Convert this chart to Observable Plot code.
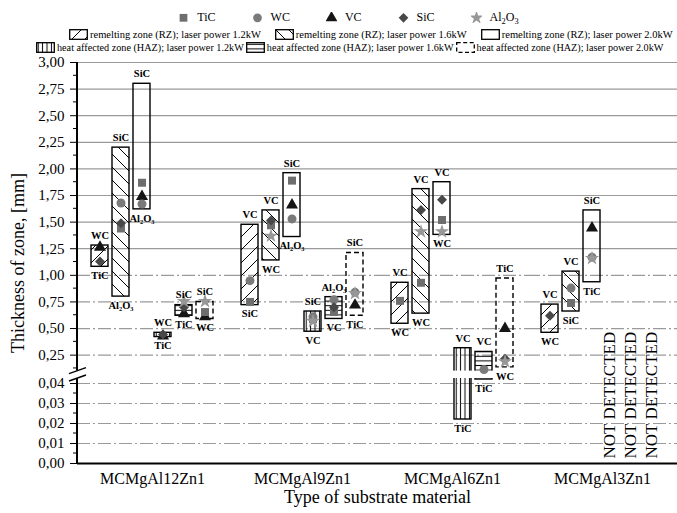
<!DOCTYPE html>
<html>
<head>
<meta charset="utf-8">
<script src="https://cdn.jsdelivr.net/npm/d3@7"></script>
<script src="https://cdn.jsdelivr.net/npm/@observablehq/plot@0.6"></script>
<style>
  html, body { margin: 0; padding: 0; background: #fff; }
  body { width: 677px; height: 513px; overflow: hidden; font-family: "Liberation Serif", "DejaVu Serif", serif; color: #000; }
  #chart svg, #chart svg text { font-family: "Liberation Serif", "DejaVu Serif", serif !important; }
  #legend { position: relative; width: 677px; height: 55px; }
  .row { position: absolute; display: flex; align-items: center; white-space: nowrap; }
  .row1 { top: 10px; left: 0; width: 677px; justify-content: center; font-size: 12px; padding-left: 20px; box-sizing: border-box; }
  .row2 { top: 29px; left: 69px; font-size: 10.5px; }
  .row3 { top: 42px; left: 36px; font-size: 10.2px; }
  .item { display: flex; align-items: center; }
  .row1 .item { margin: 0 18px; }
  .row1 .item svg { margin-right: 8px; }
  .row2 .item { margin-right: 14px; }
  .row3 .item { margin-right: 2px; }
  .row2 .item svg, .row3 .item svg { margin-right: 2px; }
  sub { font-size: 0.7em; vertical-align: -0.3em; line-height: 0; }
</style>
</head>
<body>
<svg width="0" height="0" style="position:absolute">
  <defs>
    <pattern id="pat0" width="13" height="13" patternUnits="userSpaceOnUse">
      <path d="M-3,3 L3,-3 M0,13 L13,0 M10,16 L16,10" stroke="#000" stroke-width="1"/>
    </pattern>
    <pattern id="pat1" width="13" height="13" patternUnits="userSpaceOnUse">
      <path d="M-3,10 L3,16 M0,0 L13,13 M10,-3 L16,3" stroke="#000" stroke-width="1"/>
    </pattern>
    <pattern id="pat3" width="4.4" height="10" patternUnits="userSpaceOnUse">
      <path d="M2.2,0 V10" stroke="#000" stroke-width="1"/>
    </pattern>
    <pattern id="pat4" width="10" height="4.6" patternUnits="userSpaceOnUse">
      <path d="M0,2.3 H10" stroke="#000" stroke-width="1"/>
    </pattern>
  </defs>
</svg>
<div id="legend"></div>
<div id="chart"></div>
<script>
// ---------------- data ----------------
const groups = ["MCMgAl12Zn1", "MCMgAl9Zn1", "MCMgAl6Zn1", "MCMgAl3Zn1"];
const zones = ["RZ 1.2kW", "RZ 1.6kW", "RZ 2.0kW", "HAZ 1.2kW", "HAZ 1.6kW", "HAZ 2.0kW"];
const zoneLegend = [
  "remelting zone (RZ); laser power 1.2kW",
  "remelting zone (RZ); laser power 1.6kW",
  "remelting zone (RZ); laser power 2.0kW",
  "heat affected zone (HAZ); laser power 1.2kW",
  "heat affected zone (HAZ); laser power 1.6kW",
  "heat affected zone (HAZ); laser power 2.0kW"
];
const materials = ["TiC", "WC", "VC", "SiC", "Al₂O₃"];
const materialsHtml = ["TiC", "WC", "VC", "SiC", "Al<sub>2</sub>O<sub>3</sub>"];

const yTicks = [0, 0.01, 0.02, 0.03, 0.04, 0.25, 0.5, 0.75, 1, 1.25, 1.5, 1.75, 2, 2.25, 2.5, 2.75, 3];
const yMinorTicks = [0.005, 0.015, 0.025, 0.035, 0.125, 0.375, 0.625, 0.875, 1.125, 1.375, 1.625, 1.875, 2.125, 2.375, 2.625, 2.875];
const axisBreak = [0.0425, 0.1];

// thickness range boxes (min..max over the five reinforcing particles)
const boxGroup = [0, 0, 0, 0, 0, 0, 1, 1, 1, 1, 1, 1, 2, 2, 2, 2, 2, 2, 3, 3, 3];
const boxZone  = [0, 1, 2, 3, 4, 5, 0, 1, 2, 3, 4, 5, 0, 1, 2, 3, 4, 5, 0, 1, 2];
const boxMin = [1.08, 0.80, 1.62, 0.42, 0.62, 0.59, 0.72, 1.14, 1.36, 0.47, 0.59, 0.62, 0.545, 0.64, 1.38, 0.022, 0.042, 0.135, 0.46, 0.66, 0.935];
const boxMax = [1.28, 2.20, 2.80, 0.46, 0.72, 0.75, 1.475, 1.61, 1.96, 0.66, 0.795, 1.21, 0.93, 1.81, 1.875, 0.315, 0.28, 0.97, 0.725, 1.035, 1.61];
const boxMaxLabel = ["WC", "SiC", "SiC", "WC", "SiC", "SiC", "VC", "VC", "SiC", "SiC", "Al₂O₃", "SiC", "VC", "VC", "VC", "VC", "VC", "TiC", "VC", "VC", "SiC"];
const boxMinLabel = ["TiC", "Al₂O₃", "Al₂O₃", "TiC", "TiC", "WC", "SiC", "WC", "Al₂O₃", "VC", "VC", "TiC", "WC", "WC", "WC", "TiC", "TiC", "WC", "WC", "SiC", "TiC"];

// intermediate values (markers)
const markGroup    = [0, 0,  0, 0, 0,  0, 0, 0,  0, 0,  0, 0, 0,  0, 0, 0,  1, 1,  1, 1, 1,  1, 1, 1,  1, 1, 1,  1, 1, 1,  1, 1, 1,  2,  2, 2, 2,  2, 2, 2,  2,  2, 2, 2,  3,  3, 3,  3, 3, 3];
const markZone     = [0, 0,  1, 1, 1,  2, 2, 2,  3, 3,  4, 4, 4,  5, 5, 5,  0, 0,  1, 1, 1,  2, 2, 2,  3, 3, 3,  4, 4, 4,  5, 5, 5,  0,  1, 1, 1,  2, 2, 2,  4,  5, 5, 5,  0,  1, 1,  2, 2, 2];
const markMaterial = [2, 3,  1, 3, 0,  0, 2, 1,  3, 2,  4, 3, 2,  4, 0, 2,  1, 0,  3, 0, 4,  0, 2, 1,  1, 0, 4,  1, 3, 0,  1, 4, 2,  0,  3, 4, 0,  3, 0, 4,  1,  2, 3, 4,  3,  1, 0,  2, 1, 4];
const markValue    = [1.265, 1.13,  1.68, 1.49, 1.44,  1.87, 1.74, 1.67,  0.445, 0.43,  0.755, 0.70, 0.64,  0.755, 0.655, 0.61,
                      0.95, 0.75,  1.515, 1.47, 1.37,  1.89, 1.66, 1.53,  0.61, 0.59, 0.57,  0.77, 0.70, 0.655,  0.84, 0.83, 0.72,
                      0.76,  1.615, 1.41, 0.93,  1.71, 1.52, 1.41,  0.115,  0.50, 0.215, 0.19,
                      0.62,  0.88, 0.74,  1.445, 1.17, 1.16];

const notDetectedGroup = 3;
const notDetectedZones = [3, 4, 5];

// ---------------- styles ----------------
const matSymbol = ["square", "circle", "triangle", "diamond2", "star"];
const matColor = ["#6e6e6e", "#7a7a7a", "#151515", "#484848", "#979797"];
const drawOrder = [2, 0, 1, 3, 4];
const patFill = ["url(#pat0)", "url(#pat1)", "none", "url(#pat3)", "url(#pat4)", "none"];

// ---------------- legend ----------------
const legend = d3.select("#legend");
const r1 = legend.append("div").attr("class", "row row1");
materials.forEach((m, i) => {
  const it = r1.append("div").attr("class", "item");
  const s = it.append("svg").attr("width", 11).attr("height", 11);
  const sym = {square: d3.symbolSquare, circle: d3.symbolCircle, triangle: d3.symbolTriangle, diamond2: d3.symbolDiamond2, star: d3.symbolStar}[matSymbol[i]];
  s.append("path").attr("transform", "translate(5.5,5.8)").attr("d", d3.symbol(sym, 60)()).attr("fill", matColor[i]);
  it.append("span").html(materialsHtml[i]);
});
const r2 = legend.append("div").attr("class", "row row2");
const r3 = legend.append("div").attr("class", "row row3");
zoneLegend.forEach((t, k) => {
  const it = (k < 3 ? r2 : r3).append("div").attr("class", "item");
  const s = it.append("svg").attr("width", 19).attr("height", 11);
  s.append("rect").attr("x", 0.7).attr("y", 0.7).attr("width", 17.6).attr("height", 9.6)
    .attr("fill", patFill[k] === "none" ? "white" : patFill[k]).attr("stroke", "#000").attr("stroke-width", 1.3)
    .attr("stroke-dasharray", k === 5 ? "4,2.5" : null);
  it.append("span").text(t);
});

// ---------------- chart ----------------
const W = 677, H = 458, mt = 7, mb = 50, ml = 77;
const yRange = [H - mb, H - mb - 85, H - mb - 92.4, mt];
const fmt = d => d.toFixed(2).replace(".", ",");

const boxes = boxGroup.map((g, i) => ({
  group: groups[g], zone: zones[boxZone[i]], k: boxZone[i],
  lo: boxMin[i], hi: boxMax[i], loLabel: boxMinLabel[i], hiLabel: boxMaxLabel[i]
}));
const markers = markGroup.map((g, i) => ({
  group: groups[g], zone: zones[markZone[i]], m: markMaterial[i], v: markValue[i]
}));
const notDetected = notDetectedZones.map(z => ({group: groups[notDetectedGroup], zone: zones[z], text: "NOT DETECTED"}));
const gridSolid = yTicks.filter(v => v >= 1.25);
const gridDash = yTicks.filter(v => v > 0 && v < 1.25);

const chart = Plot.plot({
  width: W, height: H,
  marginLeft: ml, marginRight: 0, marginTop: mt, marginBottom: mb,
  style: {fontFamily: "'Liberation Serif', 'DejaVu Serif', serif", fontSize: "15px", background: "white", color: "black"},
  fx: {domain: groups, padding: 0, tickSize: 0, tickPadding: 9, label: "Type of substrate material", labelAnchor: "center", labelOffset: 39},
  x: {domain: zones, paddingInner: 0.18, paddingOuter: 0.59, axis: null},
  y: {type: "linear", domain: [0, axisBreak[0], axisBreak[1], 3], range: yRange,
      ticks: yTicks, tickFormat: fmt, tickSize: 7, tickPadding: 6,
      label: "Thickness of zone, [mm]", labelAnchor: "center", labelOffset: 66},
  marks: [
    Plot.ruleY(gridDash, {stroke: "#9a9a9a", strokeWidth: 1.2, strokeDasharray: "13,3,2,3"}),
    Plot.ruleY(gridSolid, {stroke: "#9a9a9a", strokeWidth: 1.2}),
    ...zones.map((z, k) => Plot.barY(boxes.filter(d => d.k === k), {
      fx: "group", x: "zone", y1: "lo", y2: "hi",
      fill: patFill[k], stroke: "black", strokeWidth: 1.4,
      strokeDasharray: k === 5 ? "5,3" : null
    })),
    Plot.ruleY([0], {stroke: "black", strokeWidth: 2}),
    // gap of the broken axis
    Plot.rect([axisBreak], {y1: d => d[0], y2: d => d[1], fill: "white"}),
    ...drawOrder.map(m => Plot.dot(markers.filter(d => d.m === m), {
      fx: "group", x: "zone", y: "v", symbol: matSymbol[m], fill: matColor[m], r: 4.5
    })),
    Plot.text(boxes, {fx: "group", x: "zone", y: "hi", text: "hiLabel", dy: -10, fontWeight: "bold", fontSize: 10.5}),
    Plot.text(boxes, {fx: "group", x: "zone", y: "lo", text: "loLabel", dy: 9, fontWeight: "bold", fontSize: 10.5}),
    Plot.text(notDetected, {fx: "group", x: "zone", y: () => 0, text: "text", rotate: -90, textAnchor: "start", dy: -5, dx: -3, fontSize: 17})
  ]
});
document.getElementById("chart").appendChild(chart);

// ---------------- axis decoration ----------------
const svg = d3.select(chart);
const ys = chart.scale("y");
const yTop = ys.apply(3), yBot = ys.apply(0);
const bt = ys.apply(axisBreak[1]), bb = ys.apply(axisBreak[0]);
[[yTop, bt], [bb, yBot + 1]].forEach(([a, b]) => {
  svg.append("line").attr("x1", ml).attr("x2", ml).attr("y1", a).attr("y2", b).attr("stroke", "black").attr("stroke-width", 2);
});
svg.append("g").selectAll("line").data(yMinorTicks).join("line")
  .attr("x1", ml - 4).attr("x2", ml).attr("y1", d => ys.apply(d)).attr("y2", d => ys.apply(d))
  .attr("stroke", "black").attr("stroke-width", 1);
[bt, bb].forEach(yy => {
  svg.append("line").attr("x1", ml - 8).attr("y1", yy + 3).attr("x2", ml + 9).attr("y2", yy - 3)
    .attr("stroke", "black").attr("stroke-width", 1.4);
});
svg.selectAll("text").each(function () {
  const t = this.textContent;
  if (t.includes("Thickness of zone") || t.includes("Type of substrate material")) {
    this.textContent = t.replace(/[↑↓←→]/g, "").trim();
    d3.select(this).attr("font-size", 18);
  }
  if (groups.includes(t)) d3.select(this).attr("font-size", 16);
});
</script>
</body>
</html>
